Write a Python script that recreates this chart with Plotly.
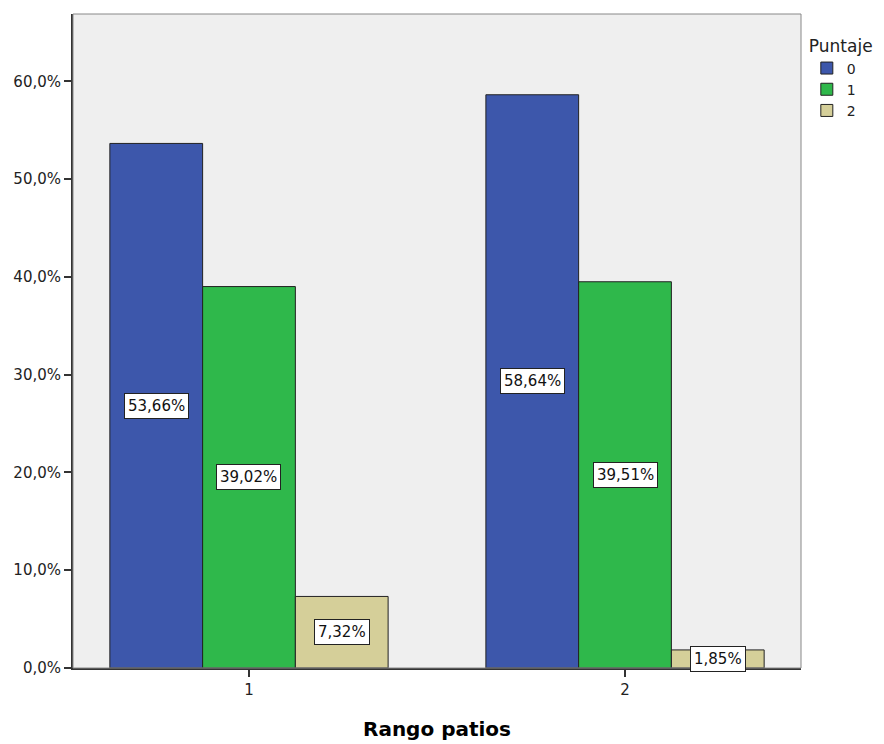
import plotly.graph_objects as go

categories = [1, 2]
cat_labels = ["1", "2"]
series_names = ["0", "1", "2"]
values_0 = [53.66, 58.64]
values_1 = [39.02, 39.51]
values_2 = [7.32, 1.85]
colors = ["#3d57ab", "#2fb84b", "#d5cf99"]
y_ticks = [0, 10, 20, 30, 40, 50, 60]
y_tick_labels = ["0,0%", "10,0%", "20,0%", "30,0%", "40,0%", "50,0%", "60,0%"]

series_values = [values_0, values_1, values_2]
bargap = 0.26
bar_w = (1 - bargap) / len(series_values)

fig = go.Figure()
for name, vals, col in zip(series_names, series_values, colors):
    fig.add_trace(go.Bar(
        x=categories, y=vals, name=name,
        marker=dict(color=col, line=dict(color="#222222", width=1)),
        hoverinfo="skip",
    ))

font = "DejaVu Sans"
for i, vals in enumerate(series_values):
    off = (i - (len(series_values) - 1) / 2) * bar_w
    for c, v in zip(categories, vals):
        fig.add_annotation(
            x=c + off, y=v / 2, xref="x", yref="y",
            text=f"{v:.2f}%".replace(".", ","),
            showarrow=False, bgcolor="white", bordercolor="#222222",
            borderwidth=1, borderpad=3,
            font=dict(family=font, size=15, color="#111111"),
        )

fig.add_shape(type="rect", xref="paper", yref="paper", x0=0, y0=0, x1=1, y1=1,
              line=dict(color="#888888", width=1), layer="above")

fig.update_layout(
    width=876, height=736,
    margin=dict(l=65, r=83, t=6, b=76),
    paper_bgcolor="white", plot_bgcolor="#efefef",
    barmode="group", bargap=bargap, bargroupgap=0,
    font=dict(family=font, size=15, color="#222222"),
    showlegend=True,
    legend=dict(
        title=dict(text="Puntaje", font=dict(family=font, size=17)),
        x=1.008, y=0.975, xanchor="left", yanchor="top",
        font=dict(family=font, size=14), tracegroupgap=0,
        itemwidth=30, bgcolor="rgba(0,0,0,0)",
    ),
    xaxis=dict(
        range=[0.532, 2.468], tickvals=categories, ticktext=cat_labels,
        ticks="outside", ticklen=7, tickcolor="#333333", tickwidth=2,
        showline=True, linecolor="#333333", linewidth=2, showgrid=False,
        zeroline=False,
        title=dict(text="<b>Rango patios</b>", font=dict(family=font, size=20, color="black"), standoff=24),
        tickfont=dict(family=font, size=15),
    ),
    yaxis=dict(
        range=[0, 66.9], tickvals=y_ticks, ticktext=y_tick_labels,
        ticks="outside", ticklen=7, tickcolor="#333333", tickwidth=2,
        showline=True, linecolor="#333333", linewidth=2, showgrid=False,
        zeroline=False, tickfont=dict(family=font, size=15),
    ),
)

fig.write_html("out.html")
